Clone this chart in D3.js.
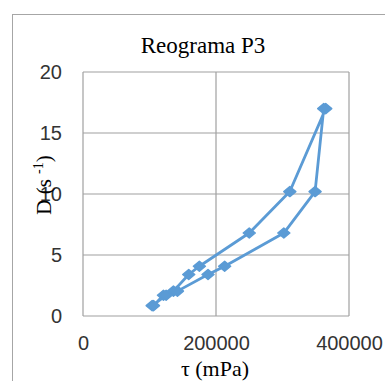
<!DOCTYPE html>
<html lang="es">
<head>
    <meta charset="utf-8">
    <script src="https://cdn.jsdelivr.net/npm/d3@7"></script>
    <style>
        body { margin: 0; background: #fff; }
    </style>
</head>
<body>
<script>
    // datos: ida y vuelta del reograma
    let tau = [106000, 121000, 136000, 159000, 175000, 250000, 311000, 365000,
               362000, 349000, 302000, 213000, 188000, 142000, 125000, 104000];
    let D = [0.85, 1.7, 2.04, 3.4, 4.08, 6.8, 10.2, 17,
             17, 10.2, 6.8, 4.08, 3.4, 2.04, 1.7, 0.85];
    let xTicks = [0, 200000, 400000];
    let yTicks = [0, 5, 10, 15, 20];

    let w = 385, h = 381;
    let mLeft = 83, mRight = 349, mTop = 72, mBottom = 316;

    let svg = d3.select("body").append("svg")
        .attr("width", w)
        .attr("height", h);

    // marco exterior del gráfico
    svg.append("rect")
        .attr("x", 12.5).attr("y", 14.5)
        .attr("width", 400).attr("height", 400)
        .attr("fill", "none")
        .attr("stroke", "#a6a6a6")
        .attr("stroke-width", 1);

    let x = d3.scaleLinear().domain([0, 400000]).range([mLeft, mRight]);
    let y = d3.scaleLinear().domain([0, 20]).range([mBottom, mTop]);

    // rejilla
    svg.selectAll(".gx")
        .data(xTicks)
        .join("line")
        .attr("class", "gx")
        .attr("x1", d => x(d)).attr("x2", d => x(d))
        .attr("y1", mTop).attr("y2", mBottom)
        .attr("stroke", "#a0a0a0").attr("stroke-width", 1.2);

    svg.selectAll(".gy")
        .data(yTicks)
        .join("line")
        .attr("class", "gy")
        .attr("x1", mLeft).attr("x2", mRight)
        .attr("y1", d => y(d)).attr("y2", d => y(d))
        .attr("stroke", "#a0a0a0").attr("stroke-width", 1.2);

    // etiquetas de ejes
    let xAxis = d3.axisBottom(x).tickValues(xTicks).tickSize(0).tickPadding(0)
        .tickFormat(d3.format("d"));
    let gx = svg.append("g").attr("transform", "translate(0," + (mBottom + 34) + ")").call(xAxis);
    gx.select(".domain").remove();
    gx.selectAll("text")
        .attr("font-family", "'Liberation Sans', sans-serif")
        .attr("font-size", 20).attr("fill", "#333").attr("dy", 0);

    let yAxis = d3.axisLeft(y).tickValues(yTicks).tickSize(0).tickPadding(0);
    let gy = svg.append("g").attr("transform", "translate(" + (mLeft - 21) + ",0)").call(yAxis);
    gy.select(".domain").remove();
    gy.selectAll("text")
        .attr("font-family", "'Liberation Sans', sans-serif")
        .attr("font-size", 20).attr("fill", "#333");

    // título
    svg.append("text")
        .attr("x", 203).attr("y", 53)
        .attr("text-anchor", "middle")
        .attr("font-family", "'Liberation Serif', serif")
        .attr("font-size", 23)
        .attr("fill", "#000")
        .text("Reograma P3");

    // títulos de ejes
    svg.append("text")
        .attr("x", 215).attr("y", 376)
        .attr("text-anchor", "middle")
        .attr("font-family", "'Liberation Serif', serif")
        .attr("font-size", 22)
        .text("τ (mPa)");

    let yt = svg.append("text")
        .attr("transform", "translate(51,185) rotate(-90)")
        .attr("text-anchor", "middle")
        .attr("font-family", "'Liberation Serif', serif")
        .attr("font-size", 21);
    yt.append("tspan").text("D (s ");
    yt.append("tspan").attr("font-size", 14).attr("dy", -8).text("-1");
    yt.append("tspan").attr("dy", 8).text(")");

    // serie
    let pts = tau.map((t, i) => [t, D[i]]);
    let line = d3.line().x(d => x(d[0])).y(d => y(d[1]));

    svg.append("path")
        .datum(pts)
        .attr("d", line)
        .attr("fill", "none")
        .attr("stroke", "#5b9bd5")
        .attr("stroke-width", 2.8)
        .attr("stroke-linejoin", "round");

    // rombos un poco más anchos que altos
    let diamond = "M-6,0L0,-5L6,0L0,5Z";
    svg.selectAll(".pt")
        .data(pts)
        .join("path")
        .attr("class", "pt")
        .attr("transform", d => "translate(" + x(d[0]) + "," + y(d[1]) + ")")
        .attr("d", diamond)
        .attr("fill", "#5b9bd5")
        .attr("stroke", "#5b9bd5")
        .attr("stroke-width", 1.5)
        .attr("stroke-linejoin", "round");
</script>
</body>
</html>
